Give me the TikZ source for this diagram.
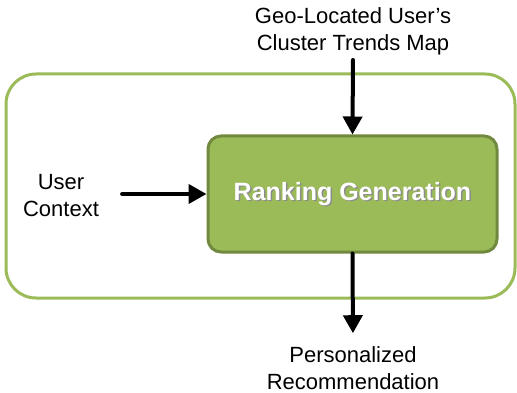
\documentclass[tikz,border=0pt]{standalone}
\usepackage{fontspec}
\setmainfont{Liberation Sans}
\usetikzlibrary{arrows.meta}
\definecolor{olivefill}{HTML}{9BBB59}
\definecolor{olivedark}{HTML}{71893F}
\tikzset{
  label text/.style={align=center, font=\fontsize{22}{27}\selectfont, inner sep=2pt},
  flow arrow/.style={line width=4pt, line cap=round, -{Triangle[length=18pt,width=19pt]}},
}
\begin{document}
\begin{tikzpicture}[x=1pt, y=-1pt]
\useasboundingbox (0,0) rectangle (517,393);

% Frame
\draw[olivefill, line width=3pt, rounded corners=30pt] (6,74) rectangle (515,298);

% Box
\node[fill=olivefill, draw=olivedark, line width=3pt, rounded corners=13pt,
      minimum width=289pt, minimum height=116pt] (rank) at (352.5,194) {};
\node[font=\fontsize{25}{30}\bfseries\selectfont, text=black!45] at ([shift={(1.5,1.5)}]rank.center) {Ranking Generation};
\node[font=\fontsize{25}{30}\bfseries\selectfont, text=white] (ranktext) at (rank.center) {Ranking Generation};

% Inputs and output
\node[label text] (geo) at (353,31) {Geo-Located User’s\\Cluster Trends Map};
\node[label text] (ctx) at (61,196) {User\\Context};
\node[label text] (rec) at (353,368) {Personalized\\Recommendation};

% Arrows
\draw[flow arrow, shorten <=3pt] (geo.south) -- (rank.north);
\draw[flow arrow, shorten <=21pt] (ctx.east |- rank.west) -- (rank.west);
\draw[flow arrow, shorten >=11pt] (rank.south) -- (rec.north);
\end{tikzpicture}
\end{document}
